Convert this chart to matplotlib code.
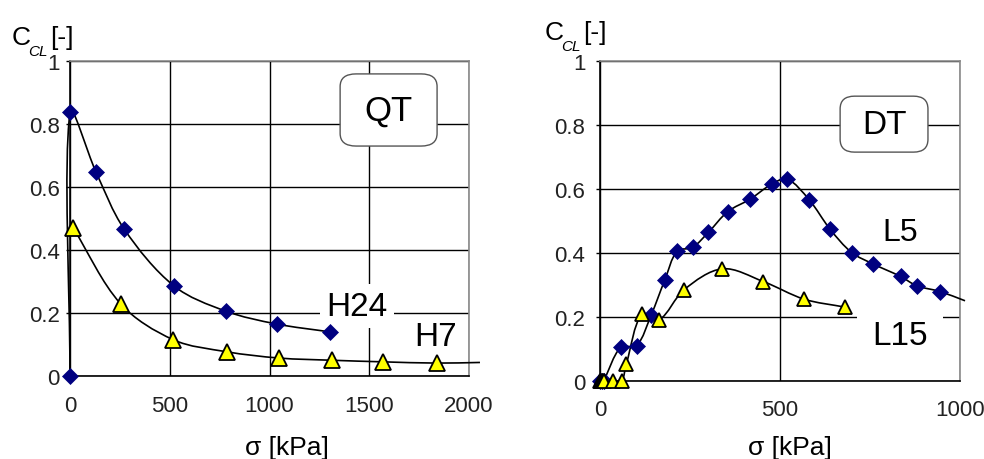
import numpy as np
import matplotlib
matplotlib.use("Agg")
import matplotlib.pyplot as plt
from matplotlib.path import Path
from matplotlib.patches import PathPatch, FancyBboxPatch

plt.rcParams['font.family'] = ['Liberation Sans', 'DejaVu Sans']

# ---------------- data ----------------
# QT panel
h24_x = [0, 0, 130, 271, 521, 780, 1036, 1303]
h24_y = [0.0, 0.838, 0.648, 0.467, 0.286, 0.206, 0.165, 0.140]
h7_x = [16, 254, 518, 785, 1048, 1312, 1567, 1838, 2055]
h7_y = [0.470, 0.229, 0.115, 0.077, 0.057, 0.050, 0.045, 0.041, 0.043]

# DT panel
l5_x = [0, 5, 10, 57, 102, 142, 180, 214, 257, 301, 355, 417, 477, 520,
        581, 639, 699, 759, 835, 880, 944, 1014]
l5_y = [0.0, 0.0, 0.0, 0.104, 0.110, 0.205, 0.315, 0.405, 0.417, 0.464,
        0.529, 0.568, 0.615, 0.631, 0.566, 0.474, 0.401, 0.365, 0.326,
        0.297, 0.279, 0.250]
l15_x = [0, 2, 4, 6, 8, 10, 12, 35, 60, 73, 116, 164, 234, 340, 454, 567, 681]
l15_y = [0.0, 0.0, 0.0, 0.0, 0.0, 0.0, 0.0, 0.0, 0.0, 0.052, 0.209, 0.190,
         0.285, 0.350, 0.310, 0.255, 0.230]

y_ticks = [0, 0.2, 0.4, 0.6, 0.8, 1.0]
y_ticklabels = ['0', '0.2', '0.4', '0.6', '0.8', '1']
qt_xticks = [0, 500, 1000, 1500, 2000]
dt_xticks = [0, 500, 1000]

W, H = 984, 460
fig = plt.figure(figsize=(W / 100, H / 100), dpi=100)


def smooth_path(ax, x, y):
    """Length-weighted cardinal Bezier smoothing computed in display space."""
    fig.canvas.draw()
    pts = ax.transData.transform(np.column_stack([x, y]).astype(float))
    n = len(pts)
    verts = [pts[0]]
    codes = [Path.MOVETO]

    def L(a, b):
        return float(np.hypot(*(a - b)))

    for i in range(n - 1):
        p0 = pts[i - 1] if i > 0 else pts[i]
        p1 = pts[i]
        p2 = pts[i + 1]
        p3 = pts[i + 2] if i + 2 < n else pts[i + 1]
        l01, l12, l23 = L(p0, p1), L(p1, p2), L(p2, p3)
        w1 = l12 / (l01 + l12) if (l01 + l12) > 0 else 0.0
        w2 = l12 / (l12 + l23) if (l12 + l23) > 0 else 0.0
        c1 = p1 + (p2 - p0) * w1 / 3.0
        c2 = p2 - (p3 - p1) * w2 / 3.0
        verts += [c1, c2, p2]
        codes += [Path.CURVE4] * 3
    inv = ax.transData.inverted()
    return Path(inv.transform(np.array(verts)), codes)


def style_axes(ax, xmax, xticks, xpad, ypad):
    ax.set_xlim(0, xmax)
    ax.set_ylim(0, 1)
    ax.set_xticks(xticks)
    ax.set_xticklabels([str(t) for t in xticks])
    ax.set_yticks(y_ticks)
    ax.set_yticklabels(y_ticklabels)
    ax.tick_params(axis='x', length=0, pad=xpad, labelsize=16, labelcolor='#222222')
    ax.tick_params(axis='y', direction='out', length=3, width=1, pad=ypad,
                   labelsize=16, labelcolor='#222222')
    ax.grid(True, color='black', lw=1.0)
    ax.set_axisbelow(True)
    for s in ['left', 'bottom']:
        ax.spines[s].set_color('black')
        ax.spines[s].set_linewidth(1.2)
    for s in ['top', 'right']:
        ax.spines[s].set_color('#8a8a8a')
        ax.spines[s].set_linewidth(1.2)


def draw_series(ax, x, y, xmax, marker, ms, fc, ec, mew):
    patch = PathPatch(smooth_path(ax, x, y), fill=False, ec='black', lw=1.2,
                      transform=ax.transData, clip_on=False, zorder=3)
    ax.add_patch(patch)
    x = np.asarray(x)
    y = np.asarray(y)
    m = x <= xmax
    ax.plot(x[m], y[m], ls='none', marker=marker, ms=ms, mfc=fc, mec=ec,
            mew=mew, clip_on=False, zorder=4)


def box_label(ax, x0, y0, x1, y1, text, fs):
    box = FancyBboxPatch((x0, y0), x1 - x0, y1 - y0,
                         boxstyle="round,pad=0,rounding_size=0.04",
                         transform=ax.transAxes, fc='white', ec='#555555',
                         lw=1.0, zorder=2.6)
    ax.add_patch(box)
    ax.text((x0 + x1) / 2, (y0 + y1) / 2, text, transform=ax.transAxes,
            ha='center', va='center', fontsize=fs, zorder=2.7)


# ---------------- QT panel ----------------
ax1 = fig.add_axes([70 / W, 1 - 377 / H, 399 / W, 315 / H])
style_axes(ax1, 2000, qt_xticks, 14, 4.5)
draw_series(ax1, h24_x, h24_y, 2000, 'D', 8.5, '#000080', '#000080', 0.5)
draw_series(ax1, h7_x, h7_y, 2000, '^', 11, '#ffff00', 'black', 1.3)
box_label(ax1, 0.677, 0.730, 0.920, 0.959, 'QT', 25)
ax1.text(1439, 0.222, 'H24', ha='center', va='center', fontsize=24, zorder=2.7,
         bbox=dict(boxstyle='square,pad=0.2', fc='white', ec='none'))
ax1.text(1830, 0.124, 'H7', ha='center', va='center', fontsize=24, zorder=2.7,
         bbox=dict(boxstyle='square,pad=0.2', fc='white', ec='none'))

# ---------------- DT panel ----------------
ax2 = fig.add_axes([600 / W, 1 - 381.7 / H, 360 / W, 319.7 / H])
style_axes(ax2, 1000, dt_xticks, 13, 7.5)
draw_series(ax2, l5_x, l5_y, 1000, 'D', 8, '#000080', '#000080', 0.5)
draw_series(ax2, l15_x, l15_y, 1000, '^', 10.5, '#ffff00', 'black', 1.3)
box_label(ax2, 0.667, 0.715, 0.911, 0.890, 'DT', 24)
ax2.text(833, 0.466, 'L5', ha='center', va='center', fontsize=23, zorder=2.7,
         bbox=dict(boxstyle='square,pad=0.15', fc='white', ec='none'))
ax2.text(833, 0.140, 'L15', ha='center', va='center', fontsize=24, zorder=2.7,
         bbox=dict(boxstyle='square,pad=0.45', fc='white', ec='none'))

# ---------------- axis titles ----------------
for dx, dy in [(0, 0), (533, -5)]:
    fig.text((12 + dx) / W, 1 - (45 + dy) / H, 'C', fontsize=19,
             ha='left', va='baseline')
    fig.text((28 + dx) / W, 1 - (56 + dy) / H, 'CL', fontsize=11,
             style='italic', ha='left', va='baseline')
    fig.text((50 + dx) / W, 1 - (45 + dy) / H, '[-]', fontsize=19,
             ha='left', va='baseline')

fig.text(286.5 / W, 1 - 455 / H, 'σ [kPa]', fontsize=19, ha='center', va='baseline')
fig.text(790 / W, 1 - 455 / H, 'σ [kPa]', fontsize=19, ha='center', va='baseline')

fig.savefig('out.png', dpi=100)
